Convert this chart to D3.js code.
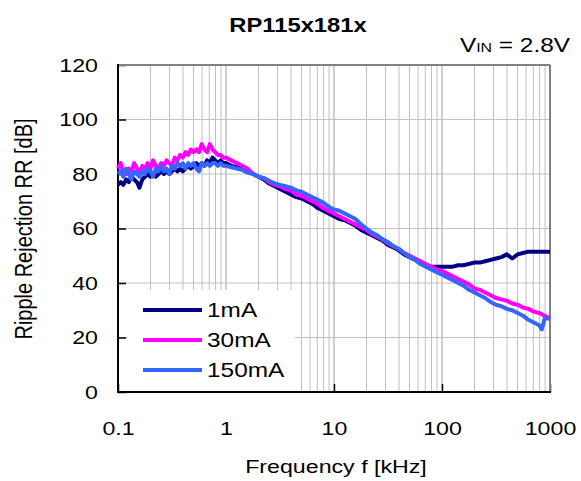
<!DOCTYPE html>
<html><head><meta charset="utf-8">
<script src="https://cdn.jsdelivr.net/npm/d3@7"></script>
<style>body{margin:0;background:#fff;} svg{display:block;} text{font-family:"Liberation Sans",Arial,sans-serif;fill:#000;}</style>
</head><body>
<svg id="c" width="581" height="481"></svg>
<script>
const freq = [0.1,0.106,0.112,0.119,0.126,0.133,0.141,0.15,0.158,0.168,0.178,0.188,0.2,0.211,0.224,0.237,0.251,0.266,0.282,0.299,0.316,0.335,0.355,0.376,0.398,0.422,0.447,0.473,0.501,0.531,0.562,0.596,0.631,0.668,0.708,0.75,0.794,0.841,0.891,0.944,1.0,
1.12,1.26,1.41,1.58,1.78,2.0,2.24,2.51,2.82,3.16,3.55,3.98,4.47,5.01,5.62,6.31,7.08,7.94,8.91,10,
11.2,12.6,14.1,15.8,17.8,20,22.4,25.1,28.2,31.6,35.5,39.8,44.7,50.1,56.2,63.1,70.8,79.4,89.1,100,
112,126,141,158,178,200,224,251,282,316,355,398,447,501,562,631,708,794,841,891,944,1000];

const rr1mA = [76,77,76,78,77,79,78,77,75,78,79,80,79,80,79,80,81,80,81,80,81,82,81,82,81,82,83,82,83,84,83,84,83,85,84,86,85,84,85,84,84,
83,82.5,82,81,80,79,78,76.5,75.5,74.5,73.5,72.5,71.5,71,70,69,67.5,66.5,65.5,64.5,
63.5,63,62,61,59.5,58.5,57.5,56.5,55.5,54,53,52,50.5,49.5,48.5,47.5,46.5,46,46,46,
46,46,46.5,46.5,47,47.5,47.5,48,48.5,49,49.5,50.5,49,50.5,51,51.5,51.5,51.5,51.5,51.5,51.5,51.5];

const rr30mA = [82,84,81,80,82,81,84,82,80,83,82,84,82,85,83,82,84,83,85,84,83,86,85,87,86,88,87,89,88,89,88,91,89,88,91,89,88,87,87,86,86,
85,84,83,82,80,79,78.5,77,76,75.5,74.5,74,72.5,72,71,70,69,67.5,66.5,65.5,
64.5,63.5,62.5,61.5,60.5,59.5,58,57,56,54.5,53.5,52.5,51,50,49,48,47,46,45,44.5,
43.5,42.5,41.5,40.5,39.5,38,37.5,36.5,35.5,34.5,34,33.5,32.5,32,31,30.5,29.5,29,28.5,28,27.5,27];

const rr150mA = [80,81,79,82,80,78,81,80,79,81,80,82,81,79,82,81,83,81,82,80,83,82,84,83,84,82,84,83,84,82,81,84,83,84,83,84,84,83,84,83,83,
82.5,82,81.5,80.5,80,79,78.5,77.5,76.5,76,75.5,75,74,73.5,72.5,71.5,70.5,69.5,68,67,
66.5,65.5,64.5,63.5,61.5,60,58.5,57.5,56,55,53.5,52.5,51,49.5,48.5,47,46,45,44,43,
42,41,40,39,37.5,36.5,35.5,34.5,33,32,31.5,30.5,30,29,28,26.5,25.5,24.5,23,27,27,27];

const seriesNames = ["1mA","30mA","150mA"];
const seriesColors = ["#000080","#ff00ff","#3366ff"];
const seriesValues = [rr1mA, rr30mA, rr150mA];
const yTicks = [0,20,40,60,80,100,120];
const xTicks = [0.1,1,10,100,1000];
const xTickLabels = ["0.1","1","10","100","1000"];

const SX = 1.22; // horizontal text stretch
const svg = d3.select("#c");
const L = 118, R = 550, T = 65, B = 392;
const x = d3.scaleLog().domain([0.1,1000]).range([L,R]);
const y = d3.scaleLinear().domain([0,120]).range([B,T]);

function txt(g, px, py, s, size, anchor, weight, rot){
  const t = g.append("text")
    .attr("transform", `translate(${px},${py}) scale(${SX},1)` + (rot ? ` rotate(${rot})` : ""))
    .attr("font-size", size).attr("text-anchor", anchor||"start").text(s);
  if (weight) t.attr("font-weight", weight);
  return t;
}

// grid
const minor = [];
for (let d = 0.1; d < 1000; d *= 10) for (let k = 1; k <= 10; k++) minor.push(d*k);
svg.append("g").selectAll("line").data(minor).join("line")
  .attr("x1", d=>x(d)).attr("x2", d=>x(d)).attr("y1", T).attr("y2", B)
  .attr("stroke", "#c0c0c0").attr("stroke-width", 1);
svg.append("g").selectAll("line").data(yTicks.filter(v=>v>0&&v<120)).join("line")
  .attr("x1", L).attr("x2", R).attr("y1", d=>y(d)).attr("y2", d=>y(d))
  .attr("stroke", "#c0c0c0").attr("stroke-width", 1);

// axes via d3
const yAxis = d3.axisLeft(y).tickValues(yTicks).tickSize(-8).tickPadding(20).tickFormat(d3.format("d"));
const xAxis = d3.axisBottom(x).tickValues(xTicks).tickSize(-8).tickPadding(30).tickFormat((d,i)=>xTickLabels[i]);
const gy = svg.append("g").attr("transform", `translate(${L},0)`).call(yAxis);
const gx = svg.append("g").attr("transform", `translate(0,${B})`).call(xAxis);
[gy,gx].forEach(g=>{
  g.select(".domain").remove();
  g.selectAll(".tick line").attr("stroke","#000").attr("stroke-width",1.5);
  g.selectAll(".tick text").attr("font-size",19).attr("fill","#000")
    .attr("font-family","Liberation Sans, Arial, sans-serif");
});
gy.selectAll(".tick text").each(function(){
  const t = d3.select(this); const xx = +t.attr("x");
  t.attr("x", null).attr("transform", `translate(${xx},0) scale(${SX},1)`);
});
gx.selectAll(".tick text").each(function(){
  const t = d3.select(this); const yy = +t.attr("y");
  t.attr("y", null).attr("dy", null).attr("transform", `translate(0,${yy+13}) scale(${SX},1)`);
});

// legend background
svg.append("rect").attr("x", 128).attr("y", 290).attr("width", 167).attr("height", B-290).attr("fill", "#fff");

// frame
svg.append("line").attr("x1",L).attr("x2",R).attr("y1",T).attr("y2",T).attr("stroke","#808080").attr("stroke-width",2);
svg.append("line").attr("x1",R).attr("x2",R).attr("y1",T).attr("y2",B).attr("stroke","#808080").attr("stroke-width",2);
svg.append("line").attr("x1",L).attr("x2",L).attr("y1",T-1).attr("y2",B+1).attr("stroke","#000").attr("stroke-width",2);
svg.append("line").attr("x1",L-1).attr("x2",R+1).attr("y1",B).attr("y2",B).attr("stroke","#000").attr("stroke-width",2);

// series
const line = d3.line().x((d,i)=>x(freq[i])).y(d=>y(d));
seriesValues.forEach((vals,k)=>{
  svg.append("path").datum(vals).attr("d", line).attr("fill","none")
    .attr("stroke", seriesColors[k]).attr("stroke-width", 4).attr("stroke-linejoin","round");
});

// legend
const lg = svg.append("g");
seriesNames.forEach((n,k)=>{
  const yy = 310 + k*30;
  lg.append("line").attr("x1",143).attr("x2",202).attr("y1",yy).attr("y2",yy)
    .attr("stroke", seriesColors[k]).attr("stroke-width",4);
  txt(lg, 207, yy+7, n, 20, "start");
});

// titles
txt(svg, 298, 32, "RP115x181x", 19.5, "middle", "bold");
const vin = svg.append("text").attr("transform", `translate(570,52) scale(${SX},1)`).attr("text-anchor","end").attr("font-size",20);
vin.append("tspan").text("V");
vin.append("tspan").attr("font-size",13).text("IN");
vin.append("tspan").text(" = 2.8V");
txt(svg, 336, 473, "Frequency f [kHz]", 19, "middle");
txt(svg, 32, 229, "Ripple Rejection RR [dB]", 20, "middle", null, -90);
</script>
</body></html>
